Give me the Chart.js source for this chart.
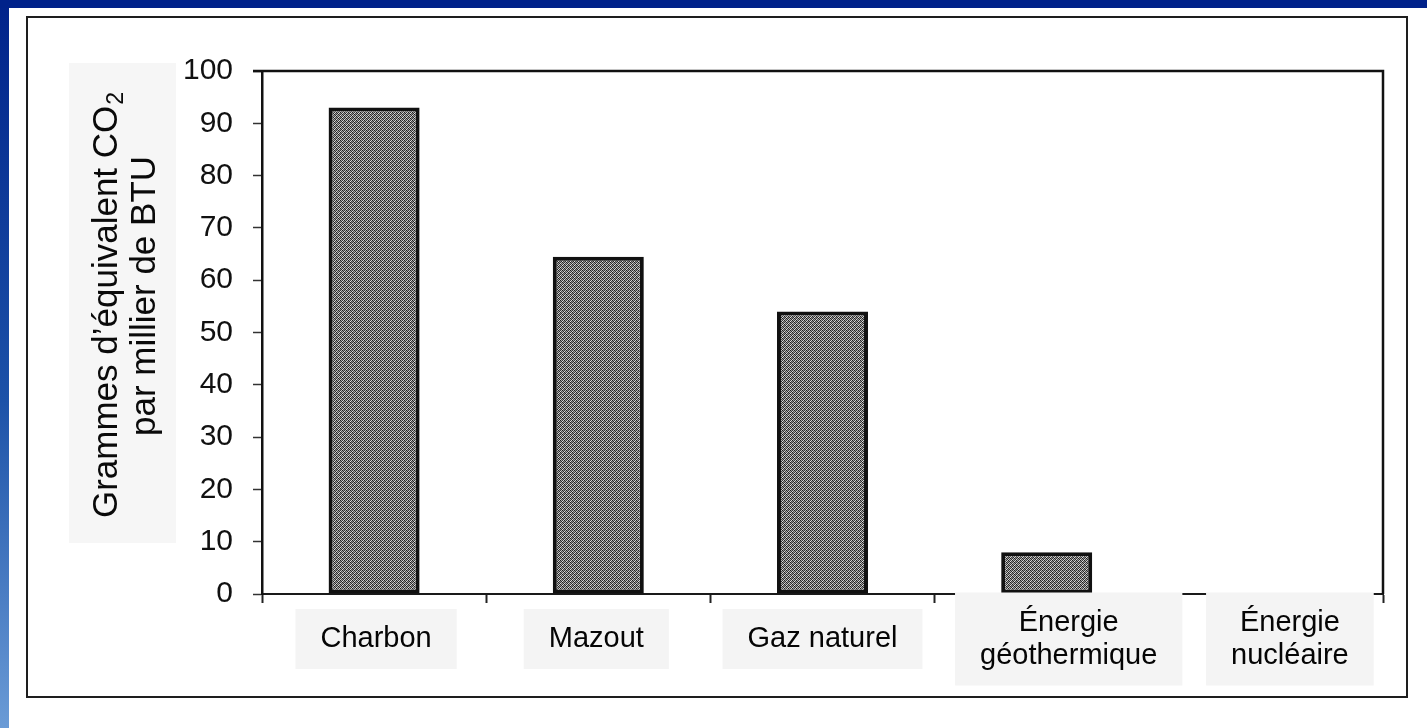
<!DOCTYPE html>
<html><head><meta charset="utf-8">
<script src="https://cdn.jsdelivr.net/npm/chart.js@4.4.1/dist/chart.umd.min.js"></script>
<style>html,body{margin:0;padding:0;background:#fff;overflow:hidden}#wrap{width:1427px;height:728px;position:relative}canvas{display:block}</style>
</head><body><div id="wrap"><canvas id="c" width="1427" height="728"></canvas></div>
<script>
// ---- data ----
const categories = [['Charbon'], ['Mazout'], ['Gaz naturel'], ['Énergie', 'géothermique'], ['Énergie', 'nucléaire']];
const co2Values = [93, 64.5, 54, 8, 0];
const yTickValues = [0, 10, 20, 30, 40, 50, 60, 70, 80, 90, 100];
const yTitleLine1 = 'Grammes d’équivalent CO';
const yTitleSub = '2';
const yTitleLine2 = 'par millier de BTU';
const labelNudge = [2, -2, 0, 22, 19];

const FONT = '"Liberation Sans", Arial, sans-serif';

// stipple pattern for bars
function makePattern() {
  const pc = document.createElement('canvas');
  pc.width = 4; pc.height = 4;
  const p = pc.getContext('2d');
  const g = [
    ['#1e1e1e', '#a8a8a8', '#3a3a3a', '#d0d0d0'],
    ['#8a8a8a', '#262626', '#e0e0e0', '#454545'],
    ['#383838', '#bdbdbd', '#1c1c1c', '#969696'],
    ['#d8d8d8', '#484848', '#a5a5a5', '#282828']
  ];
  for (let r = 0; r < 4; r++) for (let c = 0; c < 4; c++) { p.fillStyle = g[r][c]; p.fillRect(c, r, 1, 1); }
  return document.createElement('canvas').getContext('2d').createPattern(pc, 'repeat');
}

const decor = {
  id: 'decor',
  beforeDraw(chart) {
    const ctx = chart.ctx;
    const W = chart.width, H = chart.height;
    ctx.save();
    ctx.fillStyle = '#ffffff';
    ctx.fillRect(0, 0, W, H);
    // left blue band
    const gr = ctx.createLinearGradient(0, 0, 0, H);
    gr.addColorStop(0, '#00228a');
    gr.addColorStop(0.55, '#1c52a8');
    gr.addColorStop(1, '#6a9bd6');
    ctx.fillStyle = gr;
    ctx.fillRect(0, 0, 9, H);
    // top blue band
    ctx.fillStyle = '#00228a';
    ctx.fillRect(0, 0, W, 8);
    // outer frame
    ctx.strokeStyle = '#1e1e1e';
    ctx.lineWidth = 2;
    ctx.strokeRect(27, 17, 1380, 680);
    // y title box
    ctx.fillStyle = '#f6f6f6';
    ctx.fillRect(69, 63, 107, 480);
    // y title text (rotated)
    ctx.fillStyle = '#0a0a0a';
    ctx.textBaseline = 'middle';
    ctx.font = '35px ' + FONT;
    const w1 = ctx.measureText(yTitleLine1).width;
    ctx.font = '23px ' + FONT;
    const ws = ctx.measureText(yTitleSub).width;
    ctx.save();
    ctx.translate(107, 305);
    ctx.rotate(-Math.PI / 2);
    const total = w1 + ws + 1;
    ctx.textAlign = 'left';
    ctx.font = '35px ' + FONT;
    ctx.fillText(yTitleLine1, -total / 2, 0);
    ctx.font = '23px ' + FONT;
    ctx.fillText(yTitleSub, -total / 2 + w1 + 1, 10);
    ctx.restore();
    ctx.save();
    ctx.translate(145, 296);
    ctx.rotate(-Math.PI / 2);
    ctx.textAlign = 'center';
    ctx.font = '35px ' + FONT;
    ctx.fillText(yTitleLine2, 0, 0);
    ctx.restore();
    ctx.restore();
  },
  afterDraw(chart) {
    const ctx = chart.ctx;
    const a = chart.chartArea;
    const xs = chart.scales.x;
    ctx.save();
    // top and right frame of plot
    ctx.strokeStyle = '#111';
    ctx.lineWidth = 2.5;
    ctx.beginPath();
    ctx.moveTo(a.left - 9, a.top);
    ctx.lineTo(a.right, a.top);
    ctx.lineTo(a.right, a.bottom);
    ctx.stroke();
    // category labels with grey boxes
    ctx.font = '29px ' + FONT;
    ctx.textAlign = 'center';
    ctx.textBaseline = 'middle';
    const lineH = 33;
    const cy = a.bottom + 45;
    categories.forEach((lines, i) => {
      const cx = xs.getPixelForTick(i) + labelNudge[i];
      let mw = 0;
      lines.forEach(l => { mw = Math.max(mw, ctx.measureText(l).width); });
      const bw = mw + 50;
      const bh = lines.length * lineH + 27;
      ctx.fillStyle = '#f4f4f4';
      ctx.fillRect(cx - bw / 2, cy - bh / 2, bw, bh);
      ctx.fillStyle = '#050505';
      lines.forEach((l, k) => {
        ctx.fillText(l, cx, cy + (k - (lines.length - 1) / 2) * lineH);
      });
    });
    ctx.restore();
  }
};

new Chart(document.getElementById('c'), {
  type: 'bar',
  data: {
    labels: categories,
    datasets: [{
      data: co2Values,
      backgroundColor: makePattern(),
      borderColor: '#111111',
      borderWidth: 4,
      borderSkipped: false,
      barPercentage: 0.406,
      categoryPercentage: 1
    }]
  },
  options: {
    responsive: false,
    animation: false,
    devicePixelRatio: 1,
    layout: { padding: { top: 71, right: 44, left: 162, bottom: 94 } },
    plugins: { legend: { display: false }, tooltip: { enabled: false } },
    scales: {
      x: {
        afterFit(s) { s.height = 40; },
        ticks: { display: false },
        grid: { offset: true, drawOnChartArea: false, drawTicks: true, tickLength: 9, tickColor: '#222', tickWidth: 2 },
        border: { display: true, color: '#1a1a1a', width: 2 }
      },
      y: {
        min: 0, max: 100,
        afterFit(s) { s.width = 100; },
        afterBuildTicks(s) { s.ticks = yTickValues.map(v => ({ value: v })); },
        ticks: { padding: 20, color: '#111', font: { family: FONT, size: 30 } },
        grid: { drawOnChartArea: false, drawTicks: true, tickLength: 9, tickColor: '#333', tickWidth: 1.5 },
        border: { display: true, color: '#111', width: 2.5 }
      }
    }
  },
  plugins: [decor]
});
</script>
</body></html>
